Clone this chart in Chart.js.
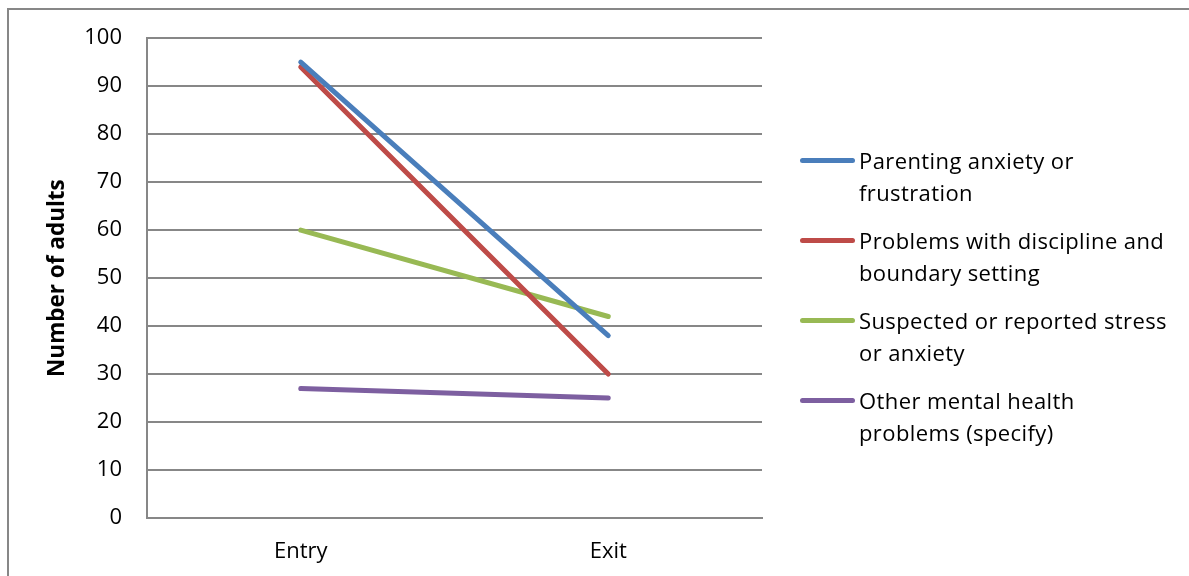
<!DOCTYPE html>
<html>
<head>
<meta charset="utf-8">
<script src="https://cdn.jsdelivr.net/npm/chart.js@4.4.1/dist/chart.umd.min.js"></script>
<style>
  html, body { margin: 0; padding: 0; background: #fff; overflow: hidden; }
  #wrap { position: relative; width: 1189px; height: 576px; }
  #frame { position: absolute; left: 7px; top: 8px; width: 1200px; height: 600px;
           border: 2px solid #878787; box-sizing: border-box; pointer-events: none; }
  #chart { position: absolute; left: 0; top: 0; }
  #legend { position: absolute; left: 800px; top: 144px; font-family: "Open Sans", "Liberation Sans", sans-serif;
            font-size: 22px; letter-spacing: 0.4px; color: #000; font-variant-ligatures: none; }
  .item { position: relative; padding-left: 59px; line-height: 32px; margin-bottom: 16px; width: 360px; white-space: nowrap; }
  .swatch { position: absolute; left: 0; top: 14px; width: 55px; height: 5px; border-radius: 3px; }
</style>
</head>
<body>
<div id="wrap">
  <canvas id="chart" width="1189" height="576"></canvas>
  <div id="frame"></div>
  <div id="legend"></div>
</div>
<script>
const categories = ['Entry', 'Exit'];
const seriesNames = [
  'Parenting anxiety or frustration',
  'Problems with discipline and boundary setting',
  'Suspected or reported stress or anxiety',
  'Other mental health problems (specify)'
];
const legendLines = [
  ['Parenting anxiety or', 'frustration'],
  ['Problems with discipline and', 'boundary setting'],
  ['Suspected or reported stress', 'or anxiety'],
  ['Other mental health', 'problems (specify)']
];
const parentingAnxiety = [95, 38];
const disciplineProblems = [94, 30];
const stressAnxiety = [60, 42];
const otherMentalHealth = [27, 25];
const seriesColors = ['#4A7EBB', '#BE4B48', '#98B954', '#7D5FA0'];
const yTicks = [0, 10, 20, 30, 40, 50, 60, 70, 80, 90, 100];

const seriesValues = [parentingAnxiety, disciplineProblems, stressAnxiety, otherMentalHealth];
const FONT = '"Open Sans", "Liberation Sans", sans-serif';

const datasets = seriesValues.map((vals, i) => ({
  label: seriesNames[i],
  data: vals,
  borderColor: seriesColors[i],
  backgroundColor: seriesColors[i],
  borderWidth: 5,
  borderCapStyle: 'round',
  borderJoinStyle: 'round',
  pointRadius: 0,
  tension: 0
}));

new Chart(document.getElementById('chart'), {
  type: 'line',
  data: { labels: categories, datasets },
  options: {
    responsive: false,
    animation: false,
    layout: { padding: { left: 0, top: 38, right: 427, bottom: 12 } },
    plugins: { legend: { display: false }, tooltip: { enabled: false } },
    scales: {
      x: {
        offset: true,
        grid: { display: false, drawTicks: false },
        border: { display: true, color: '#878787', width: 2 },
        ticks: { color: '#000', font: { family: FONT, size: 22 }, padding: 21 },
        afterFit: s => { s.height = 46; }
      },
      y: {
        min: 0, max: 100,
        afterBuildTicks: s => { s.ticks = yTicks.map(v => ({ value: v })); },
        grid: { color: '#878787', lineWidth: 2, drawTicks: false },
        border: { display: true, color: '#878787', width: 2 },
        ticks: { color: '#000', font: { family: FONT, size: 22 }, padding: 25 },
        title: { display: true, text: 'Number of adults', color: '#000',
                 font: { family: FONT, size: 22.5, weight: 'bold' }, padding: { top: 44, bottom: 0 } },
        afterFit: s => { s.width = 147; }
      }
    }
  }
});

const legend = document.getElementById('legend');
legendLines.forEach((lines, i) => {
  const item = document.createElement('div');
  item.className = 'item';
  const sw = document.createElement('span');
  sw.className = 'swatch';
  sw.style.background = seriesColors[i];
  item.appendChild(sw);
  item.appendChild(document.createTextNode(lines[0]));
  item.appendChild(document.createElement('br'));
  item.appendChild(document.createTextNode(lines[1]));
  legend.appendChild(item);
});
</script>
</body>
</html>
